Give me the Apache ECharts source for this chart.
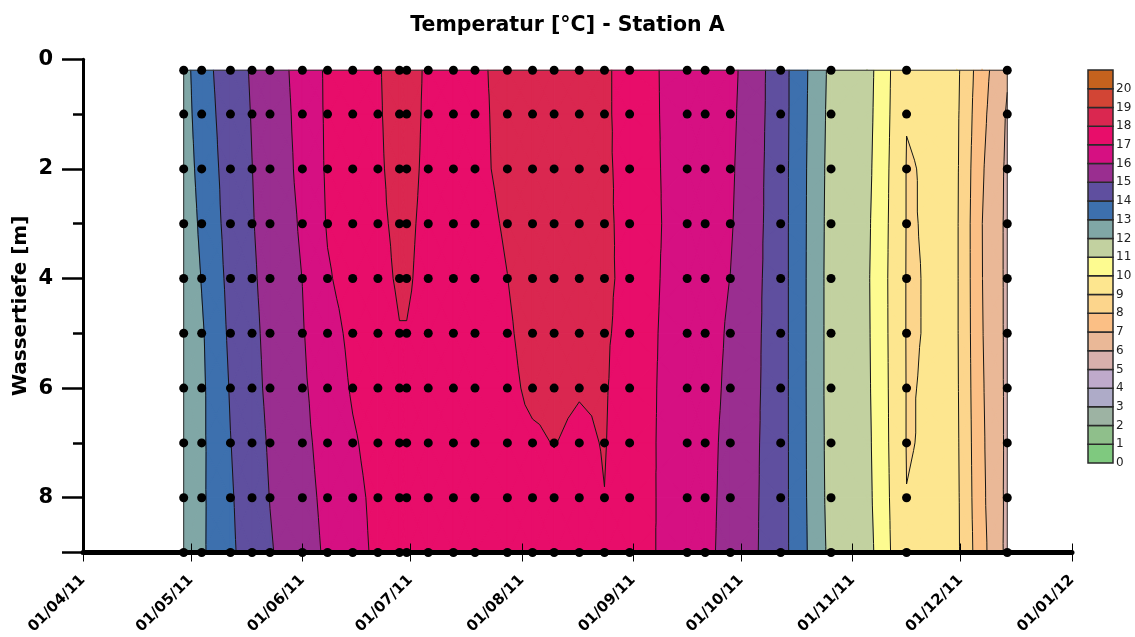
<!DOCTYPE html>
<html><head><meta charset="utf-8">
<script src="https://cdn.jsdelivr.net/npm/echarts@6/dist/echarts.min.js"></script>
<style>html,body{margin:0;padding:0;background:#fff}#c{width:1135px;height:637px}</style>
</head><body><div id="c"></div>
<script>
// ---- data ----
const sampleDates = ['2011-04-29','2011-05-04','2011-05-12','2011-05-18','2011-05-23','2011-06-01','2011-06-08','2011-06-15','2011-06-22','2011-06-28','2011-06-30','2011-07-06','2011-07-13','2011-07-19','2011-07-28','2011-08-04','2011-08-10','2011-08-17','2011-08-24','2011-08-31','2011-09-16','2011-09-21','2011-09-28','2011-10-12','2011-10-26','2011-11-16','2011-12-14'];
const depths = [0.2, 1, 2, 3, 4, 5, 6, 7, 8, 9];
// temperature profiles (°C), one row per sampling date, one value per depth
const sampleTemps = [
  [12.6,12.55,12.45,12.3,12.2,12.15,12.1,12.08,12.06,12.05],
  [13.62,13.51,13.36,13.21,13.04,12.89,12.83,12.83,12.84,12.85],
  [14.55,14.5,14.44,14.38,14.28,14.18,14.07,13.98,13.9,13.84],
  [15.09,15.04,14.99,14.95,14.88,14.8,14.73,14.62,14.53,14.45],
  [15.48,15.43,15.4,15.35,15.3,15.24,15.19,15.1,15.02,14.92],
  [16.37,16.3,16.23,16.12,16.01,15.94,15.86,15.78,15.7,15.61],
  [17.16,17.15,17.13,17.07,16.91,16.66,16.49,16.33,16.22,16.14],
  [17.55,17.54,17.51,17.46,17.36,17.21,17.09,16.9,16.76,16.69],
  [17.94,17.92,17.89,17.86,17.76,17.61,17.48,17.33,17.22,17.17],
  [18.3,18.3,18.25,18.15,18.1,17.97,17.8,17.6,17.5,17.45],
  [18.3,18.3,18.25,18.15,18.1,17.97,17.8,17.6,17.5,17.45],
  [17.88,17.85,17.82,17.8,17.75,17.7,17.65,17.55,17.5,17.45],
  [17.8,17.78,17.75,17.72,17.68,17.64,17.6,17.55,17.5,17.48],
  [17.92,17.9,17.9,17.84,17.78,17.72,17.66,17.6,17.55,17.5],
  [18.12,18.12,18.1,18.05,17.995,17.92,17.85,17.78,17.7,17.62],
  [18.35,18.35,18.33,18.3,18.27,18.22,18.13,17.9,17.75,17.65],
  [18.4,18.4,18.38,18.35,18.3,18.25,18.15,18.02,17.8,17.7],
  [18.4,18.4,18.37,18.32,18.25,18.15,18.05,17.85,17.75,17.7],
  [18.15,18.15,18.14,18.13,18.12,18.1,18.07,18.04,17.99,17.9],
  [17.63,17.63,17.72,17.79,17.83,17.74,17.58,17.55,17.5,17.45],
  [16.4,16.42,16.38,16.37,16.26,16.24,16.35,16.35,16.41,16.46],
  [16.4,16.4,16.38,16.35,16.3,16.27,16.25,16.23,16.22,16.2],
  [16.28,16.22,16.15,16.09,15.99,15.91,15.86,15.79,15.75,15.71],
  [14.45,14.45,14.43,14.43,14.43,14.43,14.43,14.43,14.43,14.43],
  [11.75,11.7,11.65,11.62,11.6,11.6,11.6,11.62,11.65,11.72],
  [9.05,9.02,8.97,8.97,8.96,8.96,8.97,8.97,9.01,9.05],
  [6.1,5.9,5.82,5.8,5.8,5.8,5.8,5.8,5.78,5.75]
];
const fieldExtraDates = ['2011-11-05','2011-11-30','2011-12-07'];
const fieldExtraTemps = [
  [11.4,11.35,11.28,11.2,11.15,11.17,11.2,11.25,11.3,11.4],
  [9.2,9.15,9.12,9.1,9.1,9.1,9.12,9.15,9.18,9.2],
  [7.38,7.25,7.1,7.01,7.02,7.05,7.1,7.15,7.2,7.3]
];
const levels = [0,1,2,3,4,5,6,7,8,9,10,11,12,13,14,15,16,17,18,19,20];
const bandColors = ['#7fc97f','#8fbf8b','#9db3a3','#aeabc8','#bfaacb','#d8b0ac','#eab897','#fbbf85','#fcd58c','#fde68f','#fdfb90','#c2d1a0','#80a7a6','#3d70ae','#5f4f9f','#9a2e90','#d61082','#e80d6a','#da2750','#d24535','#c4621e'];
const xMin = '2011-04-01', xMax = '2012-01-01';
const titleText = 'Temperatur [°C] - Station A';
const yName = 'Wassertiefe [m]';

// ---- helpers ----
const toTime = s => { const p = s.split('-').map(Number); return new Date(p[0], p[1]-1, p[2]).getTime(); };
const cols = sampleDates.map((d,i)=>({t:toTime(d), v:sampleTemps[i]}))
  .concat(fieldExtraDates.map((d,i)=>({t:toTime(d), v:fieldExtraTemps[i]})))
  .sort((a,b)=>a.t-b.t);
const pad = n => (n<10?'0':'')+n;
const fmtDate = v => { const d = new Date(v); return pad(d.getDate())+'/'+pad(d.getMonth()+1)+'/'+pad(d.getFullYear()%100); };

const cells = [];
for (let i=0;i<cols.length-1;i++) for (let j=0;j<depths.length-1;j++) cells.push([cols[i].t, depths[j], i, j]);

function clip(poly, lvl, keepAbove){
  const out=[]; const n=poly.length;
  for (let k=0;k<n;k++){
    const a=poly[k], b=poly[(k+1)%n];
    const ain = keepAbove ? a[2]>=lvl : a[2]<=lvl;
    const bin = keepAbove ? b[2]>=lvl : b[2]<=lvl;
    if (ain) out.push(a);
    if (ain!==bin){ const f=(lvl-a[2])/(b[2]-a[2]); out.push([a[0]+f*(b[0]-a[0]), a[1]+f*(b[1]-a[1]), lvl]); }
  }
  return out;
}
function cellTris(api){
  const i=api.value(2), j=api.value(3);
  const P=(ii,jj)=>{ const c=api.coord([cols[ii].t, depths[jj]]); return [c[0],c[1],cols[ii].v[jj]]; };
  const a=P(i,j), b=P(i+1,j), c=P(i+1,j+1), d=P(i,j+1);
  const m=[(a[0]+b[0]+c[0]+d[0])/4,(a[1]+b[1]+c[1]+d[1])/4,(a[2]+b[2]+c[2]+d[2])/4];
  return [[a,b,m],[b,c,m],[c,d,m],[d,a,m]];
}
function renderFill(params, api){
  const children=[];
  for (const tri of cellTris(api)){
    const vs=tri.map(p=>p[2]); const mn=Math.min(...vs), mx=Math.max(...vs);
    const k0=Math.max(0,Math.floor(mn)), k1=Math.min(levels.length-1,Math.floor(mx));
    for (let k=k0;k<=k1;k++){
      let poly=tri;
      if (k>0) poly=clip(poly,levels[k],true);
      if (k<levels.length-1 && poly.length>=3) poly=clip(poly,levels[k]+1,false);
      if (poly.length>=3) children.push({type:'polygon', shape:{points:poly.map(p=>[p[0],p[1]])}, style:{fill:bandColors[k], stroke:bandColors[k], lineWidth:1.1}});
    }
  }
  return {type:'group', children};
}
function renderLines(params, api){
  const children=[];
  for (const tri of cellTris(api)){
    const vs=tri.map(p=>p[2]); const mn=Math.min(...vs), mx=Math.max(...vs);
    for (let L=1; L<=20; L++){
      if (!(mn<L && mx>L)) continue;
      const pts=[];
      for (let e=0;e<3;e++){
        const p=tri[e], q=tri[(e+1)%3];
        if ((p[2]-L)*(q[2]-L)<0){ const f=(L-p[2])/(q[2]-p[2]); pts.push([p[0]+f*(q[0]-p[0]), p[1]+f*(q[1]-p[1])]); }
      }
      if (pts.length===2) children.push({type:'line', shape:{x1:pts[0][0],y1:pts[0][1],x2:pts[1][0],y2:pts[1][1]}, style:{stroke:'#151515', lineWidth:1}});
    }
  }
  return {type:'group', children};
}
function renderOutline(params, api){
  const t0=cols[0].t, t1=cols[cols.length-1].t, d0=depths[0], d1=depths[depths.length-1];
  const pts=[api.coord([t0,d1]),api.coord([t0,d0]),api.coord([t1,d0]),api.coord([t1,d1])];
  return {type:'polyline', shape:{points:pts}, style:{stroke:'#333', lineWidth:1, fill:null}};
}
function renderLegend(params, api){
  const k=api.value(0);
  const p0=api.coord([0,k]), p1=api.coord([1,k+1]);
  return {type:'rect', shape:{x:p0[0], y:p1[1], width:p1[0]-p0[0], height:p0[1]-p1[1]}, style:{fill:bandColors[k], stroke:'#2a2a2a', lineWidth:1.5}};
}

const dots=[];
sampleDates.forEach(d=>depths.forEach(z=>dots.push([toTime(d), z])));

const FONT = "'DejaVu Sans', Verdana, sans-serif";
const timeAxisBase = {type:'time', gridIndex:0, position:'bottom', min:toTime(xMin), max:toTime(xMax), splitNumber:9,
  minInterval:28*86400000, maxInterval:31*86400000, splitLine:{show:false}};

const chart = echarts.init(document.getElementById('c'), null, {renderer:'canvas'});
chart.setOption({
  animation:false,
  backgroundColor:'#fff',
  title:{text:titleText, left:'center', top:10, textStyle:{fontFamily:FONT, fontWeight:'bold', fontSize:20.5, color:'#000'}},
  grid:[
    {left:83, right:63, top:59.3, bottom:84.5, outerBoundsMode:'none', containLabel:false},
    {left:1088, top:70, width:25, height:393, outerBoundsMode:'none', containLabel:false}
  ],
  xAxis:[
    Object.assign({}, timeAxisBase, {z:10, axisLine:{show:true, onZero:false, lineStyle:{color:'#000', width:5}},
      axisTick:{show:true, length:9, lineStyle:{color:'#000', width:1}},
      axisLabel:{show:true, rotate:45, margin:25, formatter:fmtDate, fontFamily:FONT, fontWeight:'bold', fontSize:15, color:'#000', showMinLabel:true, showMaxLabel:true}}),
    Object.assign({}, timeAxisBase, {z:10, axisLine:{show:false, onZero:false}, axisLabel:{show:false},
      axisTick:{show:true, inside:true, length:9, lineStyle:{color:'#000', width:1}}}),
    {type:'value', gridIndex:1, min:0, max:1, show:false}
  ],
  yAxis:[
    {type:'value', gridIndex:0, position:'left', inverse:true, min:0, max:9, interval:1, z:10,
      axisLine:{show:true, onZero:false, lineStyle:{color:'#000', width:3}},
      axisTick:{show:true, length:10, lineStyle:{color:'#000', width:2.5}},
      axisLabel:{show:false}, splitLine:{show:false},
      name:yName, nameLocation:'middle', nameGap:52, nameRotate:90,
      nameTextStyle:{fontFamily:FONT, fontWeight:'bold', fontSize:20, color:'#000'}},
    {type:'value', gridIndex:0, position:'left', offset:0, inverse:true, min:0, max:9, interval:2, z:10,
      axisLine:{show:false, onZero:false}, axisTick:{show:true, length:21, lineStyle:{color:'#000', width:2.5}},
      axisLabel:{show:true, margin:30, formatter:v=>(v%2===0 && v<9)?String(v):'', fontFamily:FONT, fontWeight:'bold', fontSize:21, color:'#000'},
      splitLine:{show:false}},
    {type:'value', gridIndex:1, min:0, max:21, interval:1, position:'right',
      axisLine:{show:false}, axisTick:{show:false}, splitLine:{show:false},
      axisLabel:{show:true, margin:3, formatter:v=>v<=20?String(levels[v]):'', fontFamily:FONT, fontSize:12, color:'#222'}}
  ],
  series:[
    {type:'custom', name:'fill', xAxisIndex:0, yAxisIndex:0, data:cells, encode:{x:0,y:1}, renderItem:renderFill, z:2, silent:true},
    {type:'custom', name:'contours', xAxisIndex:0, yAxisIndex:0, data:cells, encode:{x:0,y:1}, renderItem:renderLines, z:3, silent:true},
    {type:'custom', name:'outline', xAxisIndex:0, yAxisIndex:0, data:[[cols[0].t, depths[0]]], encode:{x:0,y:1}, renderItem:renderOutline, z:3, silent:true},
    {type:'scatter', name:'samples', xAxisIndex:0, yAxisIndex:0, data:dots, symbol:'circle', symbolSize:9, itemStyle:{color:'#000', opacity:1}, z:4, silent:true},
    {type:'custom', name:'legend', xAxisIndex:2, yAxisIndex:2, data:levels.map(l=>[l]), encode:{y:0}, renderItem:renderLegend, z:2, silent:true}
  ]
});
</script>
</body></html>
